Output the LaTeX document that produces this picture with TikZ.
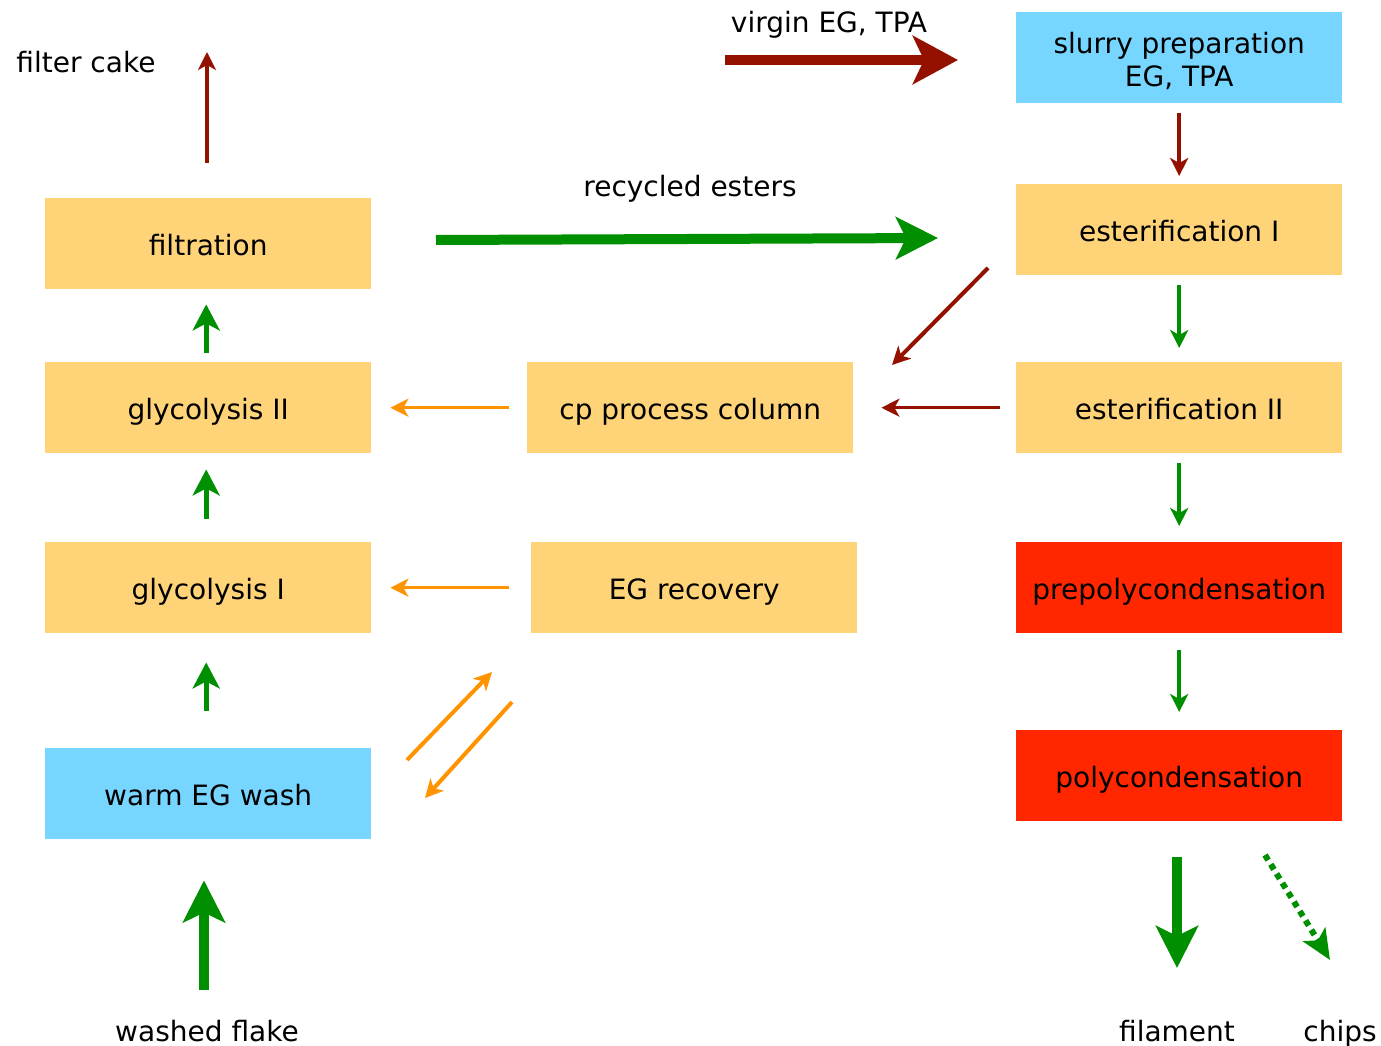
\documentclass[tikz,border=0pt]{standalone}
\usepackage{fontspec}
\setmainfont{DejaVu Sans}
\usetikzlibrary{arrows.meta,calc}
\definecolor{boxorange}{RGB}{255,212,121}
\definecolor{boxblue}{RGB}{118,214,255}
\definecolor{boxred}{RGB}{255,38,0}
\definecolor{maroon}{RGB}{148,17,0}
\definecolor{clover}{RGB}{0,143,0}
\definecolor{tangerine}{RGB}{255,147,0}
\begin{document}
\begin{tikzpicture}[x=1pt,y=-1pt,
  box/.style={minimum width=326pt, minimum height=91pt, inner sep=0pt,
    font=\fontsize{28}{33}\selectfont, anchor=north west},
  oneline/.style={text height=28pt, text depth=5pt},
  lbl/.style={font=\fontsize{28}{33}\selectfont, anchor=base, inner sep=0pt},
  thinarrow/.style={line width=3.5pt, -{Stealth[length=18pt,width=18pt,inset=5pt]}},
  midarrow/.style={line width=5pt, -{Stealth[length=26pt,width=27pt,inset=7pt]}},
  bigarrow/.style={line width=10pt, -{Stealth[length=42pt,width=42pt,inset=10pt]}},
]
\fill[white] (0,0) rectangle (1381,1046);
\useasboundingbox (0,0) rectangle (1381,1046);

% process boxes, right column
\node[box, fill=boxblue, align=center] (slurry) at (1016,12)
  {\rule{0pt}{27.3pt}slurry preparation\\EG, TPA};
\node[box, oneline, fill=boxorange] (est1) at (1016,184) {esterification I};
\node[box, oneline, fill=boxorange] (est2) at (1016,362) {esterification II};
\node[box, oneline, fill=boxred] (prepoly) at (1016,542) {prepolycondensation};
\node[box, oneline, fill=boxred] (poly) at (1016,730) {polycondensation};

% middle column
\node[box, oneline, fill=boxorange] (cp) at (527,362) {cp process column};
\node[box, oneline, fill=boxorange] (egrec) at (531,542) {EG recovery};

% left column
\node[box, oneline, fill=boxorange] (filt) at (45,198) {filtration};
\node[box, oneline, fill=boxorange] (gly2) at (45,362) {glycolysis II};
\node[box, oneline, fill=boxorange] (gly1) at (45,542) {glycolysis I};
\node[box, oneline, fill=boxblue] (wash) at (45,748) {warm EG wash};

% free labels
\node[lbl] (virgin) at (829,33) {virgin EG, TPA};
\node[lbl] (cake) at (86,73) {filter cake};
\node[lbl] (recyc) at (690,196) {recycled esters};
\node[lbl] (flake) at (207,1041) {washed flake};
\node[lbl] (filament) at (1177,1041) {filament};
\node[lbl] (chips) at (1340,1041) {chips};

% free connector ends
\coordinate (virginA) at (725,60);
\coordinate (virginB) at (958,60);
\coordinate (recA) at (436,240);
\coordinate (recB) at (938,238);
\coordinate (cakeend) at (207,52);
\coordinate (flakestart) at (204,990);
\coordinate (filend) at (1177,968);
\coordinate (chipA) at (1265,855);
\coordinate (chipB) at (1330,960);
\coordinate (estout) at (988,268);
\coordinate (cpin) at (892,365);
\coordinate (washout) at (407,760);
\coordinate (recin) at (492,672);
\coordinate (recout) at (512,702);
\coordinate (washin) at (425,798);

% feed arrows
\draw[bigarrow, maroon, -{Stealth[length=45pt,width=48pt,inset=11pt]}] (virginA) -- (virginB);
\draw[bigarrow, clover] (recA) -- (recB);
\draw[bigarrow, clover, shorten >=41pt] (flakestart) -- (flakestart |- wash.south);
\draw[bigarrow, clover, shorten <=36pt] (poly.south -| filend) -- (filend);
\draw[clover, line width=6pt, dash pattern=on 6pt off 5pt,
  -{Stealth[length=30pt,width=26pt,inset=7pt]}] (chipA) -- (chipB);

% right column flow
\draw[thinarrow, maroon, shorten <=10pt, shorten >=8pt] (slurry.south) -- (est1.north);
\draw[thinarrow, clover, shorten <=10pt, shorten >=14pt] (est1.south) -- (est2.north);
\draw[thinarrow, clover, shorten <=10pt, shorten >=16pt] (est2.south) -- (prepoly.north);
\draw[thinarrow, clover, shorten <=17pt, shorten >=18pt] (prepoly.south) -- (poly.north);
\draw[thinarrow, maroon, line width=4pt] (estout) -- (cpin);
\draw[thinarrow, maroon, shorten <=16pt, shorten >=28pt] (est2.west) -- (cp.east);

% EG returns
\draw[thinarrow, tangerine, shorten <=18pt, shorten >=19pt] (cp.west) -- (gly2.east);
\draw[thinarrow, tangerine, shorten <=22pt, shorten >=19pt] (egrec.west) -- (gly1.east);
\draw[thinarrow, tangerine, line width=4pt] (washout) -- (recin);
\draw[thinarrow, tangerine, line width=4pt] (recout) -- (washin);

% left column flow
\draw[midarrow, clover, shorten <=9pt, shorten >=15pt] ([xshift=-2pt]gly2.north) -- ([xshift=-2pt]filt.south);
\draw[midarrow, clover, shorten <=23pt, shorten >=16pt] ([xshift=-2pt]gly1.north) -- ([xshift=-2pt]gly2.south);
\draw[midarrow, clover, shorten <=37pt, shorten >=29pt] ([xshift=-2pt]wash.north) -- ([xshift=-2pt]gly1.south);
\draw[thinarrow, maroon, shorten <=35pt] (filt.north -| cakeend) -- (cakeend);
\end{tikzpicture}
\end{document}
